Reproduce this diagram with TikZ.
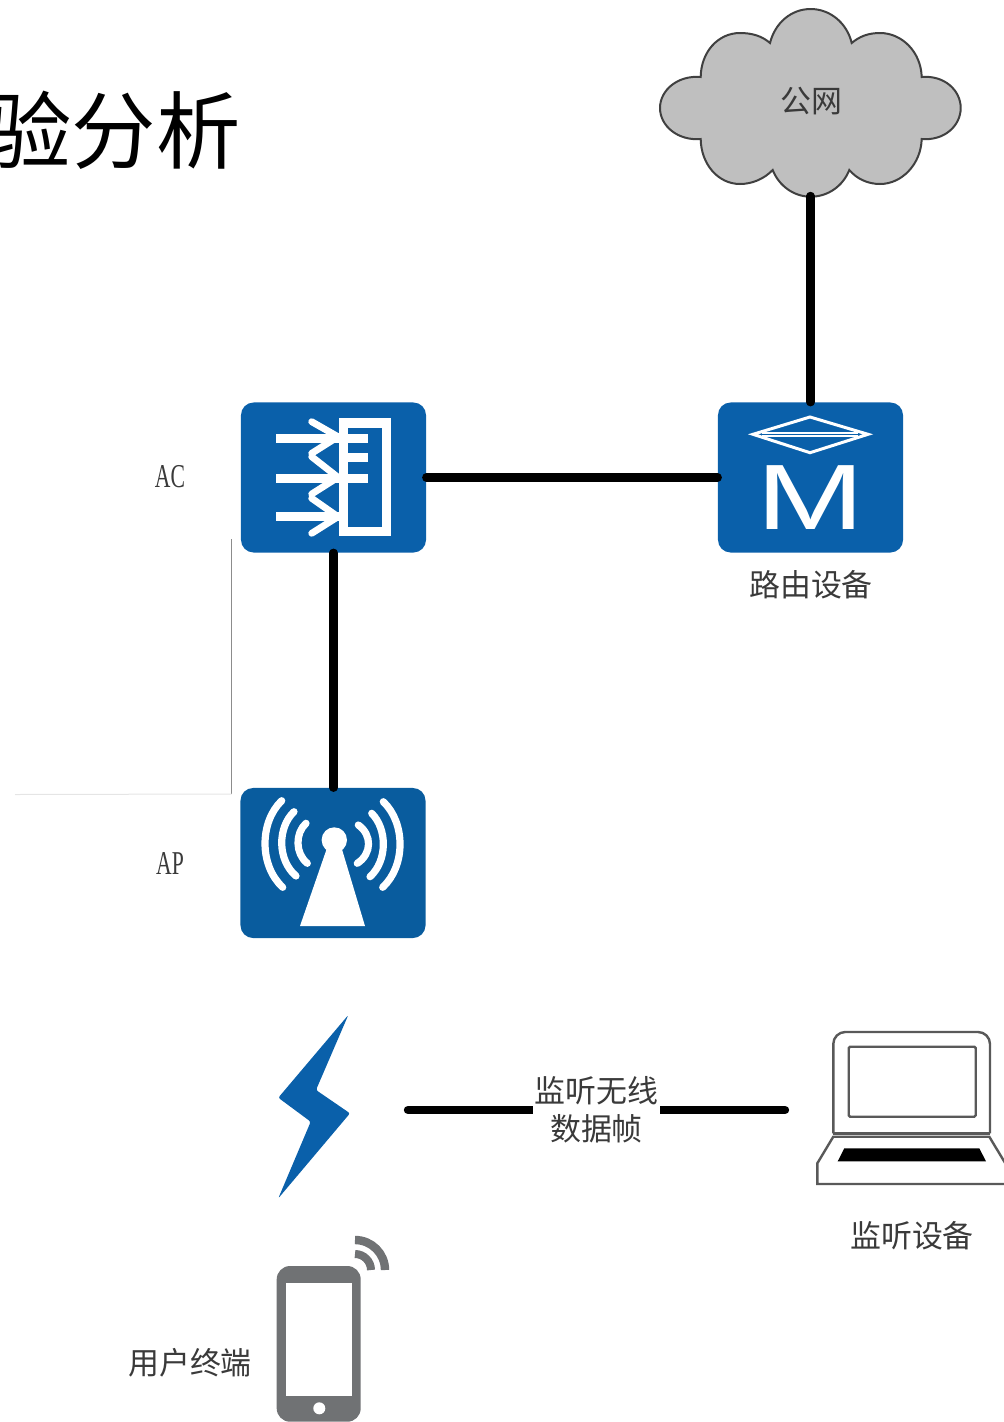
\documentclass[tikz,border=0pt]{standalone}
\usepackage{fontspec}
\setmainfont{Liberation Serif}
\newfontfamily\cjk{Noto Sans CJK SC}
\newfontfamily\sansfont{Liberation Sans}
\usepackage{tikz}
\usetikzlibrary{positioning}
\definecolor{iconblue}{HTML}{0A60AA}
\definecolor{apblue}{HTML}{095C9E}
\definecolor{phonegray}{HTML}{707274}
\definecolor{cloudgray}{HTML}{BFBFBF}
\definecolor{labelgray}{HTML}{3A3A3A}
\tikzset{
  bluebox/.style={draw=none,fill=iconblue,rounded corners=9pt,minimum width=4.625cm,minimum height=3.75cm,inner sep=0},
  link/.style={line width=0.21cm,line cap=round,black},
  iconline/.style={line width=0.23cm,white},
  chevron/.style={line width=0.17cm,white,line cap=round,line join=miter},
  wave/.style={line width=0.18cm,white,line cap=round},
  laptopline/.style={line width=0.06cm,draw=black!65},
  devlabel/.style={font=\cjk\fontsize{22}{27}\selectfont,text=labelgray,inner sep=0,align=center},
  latinlabel/.style={font=\fontsize{23.7}{27}\selectfont,text=labelgray,inner sep=0},
}
\begin{document}
\begin{tikzpicture}[x=0.025cm,y=-0.025cm]
  \clip (0,0) rectangle (1004,1422);
  % title, cut off by the left edge
  \node[anchor=east,inner sep=0,font=\cjk\fontsize{60}{62}\selectfont] (title) at (241,130) {验分析};
  % cloud
  \draw[fill=cloudgray,draw=black!75,line width=0.05cm]
    (700.7,77) .. controls (701,52) and (718,33) .. (740,33)
    .. controls (752,33) and (762,36) .. (770,43)
    .. controls (775,23) and (791,9) .. (810.7,9)
    .. controls (830,9) and (847,23) .. (851.7,43)
    .. controls (860,36) and (869,33) .. (880,33)
    .. controls (902,33) and (921,52) .. (921.7,77)
    .. controls (944,75) and (960.7,90) .. (960.7,108)
    .. controls (960.7,126) and (944,141) .. (921.7,139)
    .. controls (921,164) and (902,184) .. (880,184)
    .. controls (868,184) and (857,179) .. (849.3,170)
    .. controls (843,186) and (828,196.7) .. (810.7,196.7)
    .. controls (794,196.7) and (779,186) .. (772.7,170)
    .. controls (764,179) and (752,184) .. (740,184)
    .. controls (718,184) and (701,164) .. (700.7,139)
    .. controls (678,141) and (660,126) .. (660,108)
    .. controls (660,90) and (678,75) .. (700.7,77) -- cycle;
  \node[devlabel] (cloudlabel) at (811,101) {公网};
  \coordinate (cloudbottom) at (810.5,196);
  % devices
  \node[bluebox] (acbox) at (333.5,477.5) {};
  \node[bluebox] (routerbox) at (810.5,477.5) {};
  \node[bluebox,fill=apblue] (apbox) at (333,863) {};
  % links
  \draw[link] (cloudbottom) -- (routerbox.north);
  \draw[link] (acbox.east) -- (routerbox.west);
  \draw[link] (acbox.south) -- (acbox.south |- apbox.north);
  % AC icon
  \draw[iconline] (343.3,423) rectangle (386.7,531.7);
  \foreach \x/\y in {276/438.3, 347/457.7, 276/478.3} {
    \draw[iconline] (\x,\y) -- (368.3,\y);
  }
  \draw[iconline] (276,516.7) -- (343,516.7);
  \foreach \a/\b/\c in {421.7/436.7/453.3, 456.7/477.3/494, 498.3/516.7/533.3} {
    \draw[chevron] (311.7,\a) -- (338,\b) -- (311.7,\c);
  }
  % router icon
  \draw[white,line width=0.075cm] (753,434.3) -- (810,417) -- (868,434.3) -- (810,452.7) -- cycle;
  \draw[white,line width=0.05cm] (762,432.5) -- (858,432.5);
  \draw[white,line width=0.05cm] (762,436) -- (858,436);
  \node[text=white,inner sep=0,font=\sansfont\fontsize{66}{66}\selectfont] (routerletter) at (810.7,498) {\scalebox{1.4}[1]{M}};
  % AP icon
  \fill[white] (334.3,840) circle (12.7);
  \fill[white] (300,926) -- (327,848) -- (341.6,848) -- (365,926) -- cycle;
  \foreach \xa/\ya/\cx/\xb/\yb in {306/823.3/295.1/307.3/863.3, 294/811.7/277.3/296/876, 281.7/800.7/259.3/282.7/887.3, 358.3/825/372.1/357.3/863.3, 371.7/813.3/387.5/370/876.7, 383.3/801.7/405.7/382.7/887.3} {
    \draw[wave] (\xa,\ya) .. controls (\cx,{\ya+0.25*(\yb-\ya)}) and (\cx,{\yb-0.25*(\yb-\ya)}) .. (\xb,\yb);
  }
  % thin rules beside the boxes
  \coordinate (ruletop) at (231.5,539);
  \coordinate (rulecorner) at (231.5,794);
  \coordinate (ruleleft) at (15,794.5);
  \draw[black!45,line width=0.025cm] (ruletop) -- (rulecorner);
  \draw[black!10,line width=0.025cm] (rulecorner) -- (ruleleft);
  % labels
  \node[latinlabel] (aclabel) at (170,477) {\scalebox{.65}[1]{AC}};
  \node[latinlabel] (aplabel) at (170,863) {\scalebox{.65}[1]{AP}};
  \node[devlabel] (routerlabel) at (811,585) {路由设备};
  % bolt
  \fill[iconblue,rounded corners=1.5pt] (348.3,1015) -- (316,1090) -- (350,1113.3) -- (278.3,1198.3) -- (310.7,1121.7) -- (278.3,1097.7) -- cycle;
  % monitoring link
  \coordinate (linestart) at (408,1110);
  \coordinate (lineend) at (785,1110);
  \draw[link] (linestart) -- (lineend) node[midway,devlabel,fill=white,text width=3.15cm] (linelabel) {监听无线\\数据帧};
  % laptop
  \draw[laptopline,rounded corners=8.5pt] (833.3,1133.3) -- (833.3,1032) -- (990,1032) -- (990,1133.3);
  \draw[laptopline] (833.3,1133.3) -- (990,1133.3);
  \draw[laptopline,rounded corners=1pt] (848.7,1046.7) rectangle (975.7,1116.7);
  \draw[laptopline] (833.3,1136.7) -- (989.3,1136.7) -- (1005.3,1163.3) -- (1005.3,1184) -- (817.3,1184) -- (817.3,1163.3) -- cycle;
  \fill[black] (844.3,1148.3) -- (979.3,1148.3) -- (986,1161.3) -- (837.7,1161.3) -- cycle;
  \node[devlabel] (laptoplabel) at (912,1236) {监听设备};
  % phone
  \fill[phonegray,rounded corners=9.5pt] (276.7,1266) rectangle (360.7,1421.7);
  \fill[white] (285.7,1282.7) rectangle (351.7,1395.7);
  \fill[white] (319.3,1408.3) circle (6);
  \draw[phonegray,line width=0.21cm] (355,1240) .. controls (371.6,1240) and (385,1253.4) .. (385,1270);
  \draw[phonegray,line width=0.2cm] (355,1254) .. controls (363.8,1254) and (371,1261.2) .. (371,1270);
  \node[devlabel] (phonelabel) at (190,1363) {用户终端};
\end{tikzpicture}
\end{document}
